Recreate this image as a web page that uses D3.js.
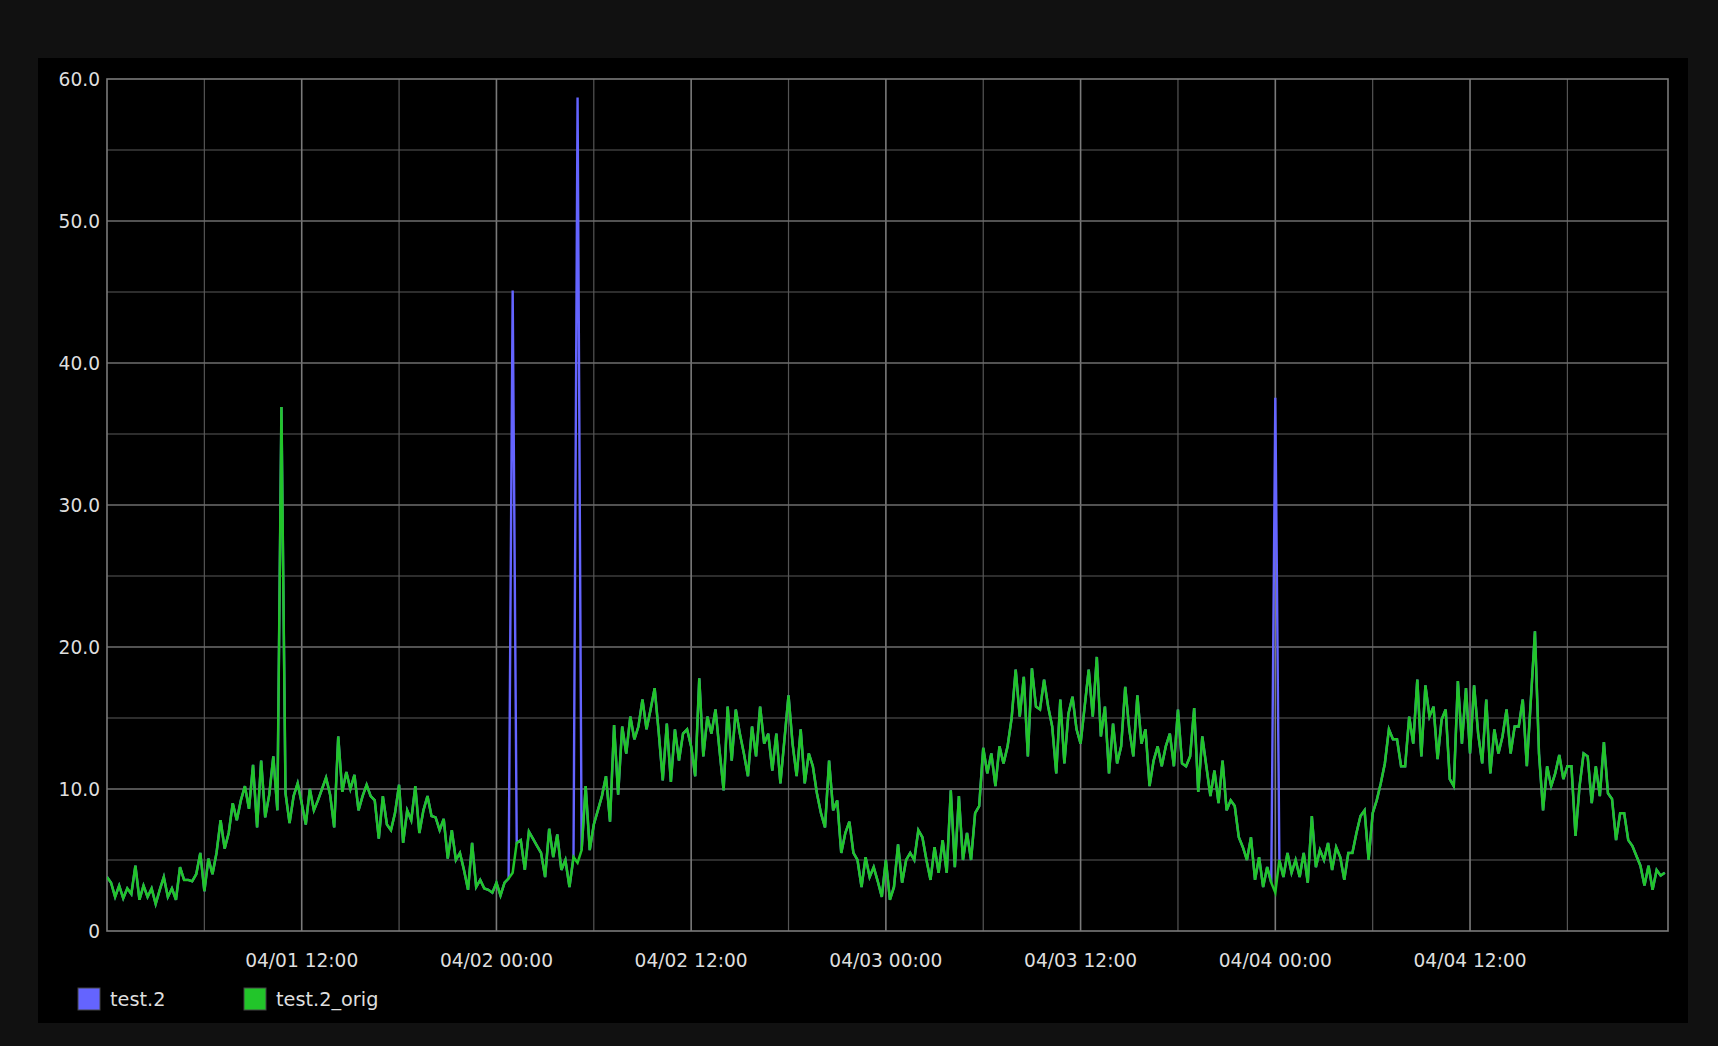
<!DOCTYPE html>
<html>
<head>
<meta charset="utf-8">
<script src="https://cdn.jsdelivr.net/npm/d3@7"></script>
<style>
  html, body { margin: 0; padding: 0; background: #111111; }
  svg { display: block; }
  text { font-family: "DejaVu Sans", sans-serif; }
</style>
</head>
<body>
<script>
// ---------------- data ----------------
const seriesNames = ["test.2", "test.2_orig"];
const seriesColors = ["#6464ff", "#22c52a"];
const startTime = new Date(2014, 3, 1, 0, 0);   // 04/01 00:00
const stepMinutes = 15;
const spanMinutes = 5772;                        // visible range ~96.2 h

// test.2_orig, one value every 15 minutes
const origValues = [
  3.8, 3.4, 2.4, 3.2, 2.3, 3.0, 2.6, 4.6, 2.2, 3.2,
  2.4, 3.0, 1.9, 2.9, 3.8, 2.4, 3.0, 2.2, 4.5, 3.6,
  3.6, 3.5, 4.0, 5.5, 2.8, 5.1, 4.0, 5.5, 7.8, 5.8,
  6.9, 9.0, 7.8, 9.2, 10.2, 8.6, 11.7, 7.3, 12.0, 8.0,
  9.6, 12.3, 8.5, 36.9, 9.7, 7.6, 9.5, 10.4, 9.0, 7.5,
  10.0, 8.5, 9.2, 10.0, 10.8, 9.6, 7.3, 13.7, 9.8, 11.2,
  10.0, 11.0, 8.5, 9.5, 10.3, 9.5, 9.2, 6.5, 9.5, 7.5,
  7.1, 8.3, 10.3, 6.2, 8.5, 7.8, 10.2, 6.9, 8.5, 9.5,
  8.1, 8.0, 7.1, 7.9, 5.1, 7.1, 5.0, 5.5, 4.3, 2.9,
  6.2, 3.1, 3.6, 3.0, 2.9, 2.7, 3.4, 2.5, 3.4, 3.7,
  4.1, 6.2, 6.4, 4.3, 7.0, 6.5, 6.0, 5.5, 3.8, 7.2,
  5.2, 6.8, 4.3, 5.0, 3.1, 5.2, 4.8, 5.7, 10.2, 5.7,
  7.5, 8.5, 9.5, 10.9, 7.7, 14.5, 9.6, 14.4, 12.5, 15.1,
  13.5, 14.4, 16.3, 14.2, 15.6, 17.1, 14.0, 10.6, 14.6, 10.5,
  14.2, 12.0, 13.9, 14.2, 13.0, 10.9, 17.8, 12.3, 15.1, 13.9,
  15.6, 12.7, 9.9, 15.8, 12.0, 15.6, 13.9, 12.5, 10.9, 14.4,
  12.3, 15.8, 13.2, 13.9, 11.3, 13.9, 10.4, 13.5, 16.6, 13.2,
  10.9, 14.2, 10.4, 12.5, 11.6, 9.7, 8.3, 7.3, 12.0, 8.5,
  9.2, 5.5, 6.9, 7.7, 5.5, 5.0, 3.1, 5.2, 3.8, 4.5,
  3.5, 2.4, 5.0, 2.2, 3.1, 6.1, 3.4, 5.0, 5.5, 5.0,
  7.1, 6.6, 5.0, 3.6, 5.9, 4.1, 6.4, 4.1, 9.9, 4.5,
  9.5, 5.0, 6.9, 5.0, 8.3, 8.8, 12.9, 11.1, 12.5, 10.2,
  13.0, 11.8, 13.0, 15.0, 18.4, 15.1, 17.9, 12.3, 18.5, 15.8,
  15.6, 17.7, 15.8, 14.4, 11.1, 16.3, 11.8, 15.3, 16.5, 14.2,
  13.2, 15.8, 18.4, 15.1, 19.3, 13.7, 15.8, 11.1, 14.6, 11.8,
  13.0, 17.2, 14.2, 12.3, 16.6, 13.2, 14.2, 10.2, 12.0, 13.0,
  11.6, 13.0, 13.9, 11.6, 15.6, 11.8, 11.6, 12.3, 15.7, 9.8,
  13.7, 11.6, 9.5, 11.3, 9.0, 12.0, 8.5, 9.2, 8.8, 6.6,
  5.9, 5.0, 6.6, 3.6, 5.2, 3.1, 4.5, 3.4, 2.7, 5.0,
  3.8, 5.5, 4.1, 5.0, 3.8, 5.5, 3.4, 8.1, 4.5, 5.7,
  5.0, 6.2, 4.3, 5.9, 5.2, 3.6, 5.5, 5.5, 6.9, 8.1,
  8.5, 5.0, 8.3, 9.2, 10.4, 11.8, 14.2, 13.5, 13.5, 11.6,
  11.6, 15.1, 13.2, 17.7, 12.3, 17.3, 15.1, 15.8, 12.1, 14.9,
  15.6, 10.7, 10.2, 17.6, 13.2, 17.1, 12.5, 17.3, 13.9, 11.8,
  16.3, 11.1, 14.2, 12.5, 13.7, 15.6, 12.5, 14.4, 14.4, 16.3,
  11.6, 16.3, 21.1, 12.5, 8.5, 11.6, 10.2, 11.1, 12.4, 10.7,
  11.6, 11.6, 6.7, 10.2, 12.5, 12.3, 9.0, 11.6, 9.5, 13.3,
  9.7, 9.3, 6.4, 8.3, 8.3, 6.4, 6.0, 5.3, 4.6, 3.2,
  4.6, 2.9, 4.3, 3.9, 4.1
];

// test.2 follows test.2_orig except at these samples
const test2SpikeIndex = [100, 116, 288];
const test2SpikeValues = [45.1, 58.7, 37.55];

const yTickValues = [0, 10, 20, 30, 40, 50, 60];
const yTickLabels = ["0", "10.0", "20.0", "30.0", "40.0", "50.0", "60.0"];
const xTickLabels = ["04/01 12:00", "04/02 00:00", "04/02 12:00", "04/03 00:00",
                     "04/03 12:00", "04/04 00:00", "04/04 12:00"];

// ---------------- layout ----------------
const W = 1718, H = 1046;
const plot = { left: 107, top: 79, right: 1668, bottom: 931 };

const svg = d3.select("body").append("svg").attr("width", W).attr("height", H);
svg.append("rect").attr("width", W).attr("height", H).attr("fill", "#111111");
svg.append("rect").attr("x", 38).attr("y", 58).attr("width", 1650).attr("height", 965).attr("fill", "#000000");

const endTime = d3.timeMinute.offset(startTime, spanMinutes);
const x = d3.scaleTime().domain([startTime, endTime]).range([plot.left, plot.right]);
const y = d3.scaleLinear().domain([0, 60]).range([plot.bottom, plot.top]);

const origData = origValues.map((v, i) => ({ t: d3.timeMinute.offset(startTime, i * stepMinutes), v }));
const test2Data = origData.map((d, i) => {
  const k = test2SpikeIndex.indexOf(i);
  return { t: d.t, v: k >= 0 ? test2SpikeValues[k] : d.v };
});

// grid (lines that would touch the frame are left to the frame)
const gridEnd = d3.timeHour.offset(startTime, 95);
const minorX = d3.timeHour.every(6).range(d3.timeMinute.offset(startTime, 1), gridEnd).filter(d => d.getHours() % 12 !== 0);
const majorX = d3.timeHour.every(12).range(d3.timeMinute.offset(startTime, 1), gridEnd);
const minorY = [5, 15, 25, 35, 45, 55];
const majorY = yTickValues.filter(v => v > 0 && v < 60);

const grid = svg.append("g");
grid.selectAll("line.mx").data(minorX).join("line")
  .attr("x1", d => x(d)).attr("x2", d => x(d))
  .attr("y1", plot.top).attr("y2", plot.bottom)
  .attr("stroke", "#555").attr("stroke-width", 1.2);
grid.selectAll("line.my").data(minorY).join("line")
  .attr("x1", plot.left).attr("x2", plot.right)
  .attr("y1", d => y(d)).attr("y2", d => y(d))
  .attr("stroke", "#5a5a5a").attr("stroke-width", 1.2);
grid.selectAll("line.Mx").data(majorX).join("line")
  .attr("x1", d => x(d)).attr("x2", d => x(d))
  .attr("y1", plot.top).attr("y2", plot.bottom)
  .attr("stroke", "#7a7a7a").attr("stroke-width", 1.6);
grid.selectAll("line.My").data(majorY).join("line")
  .attr("x1", plot.left).attr("x2", plot.right)
  .attr("y1", d => y(d)).attr("y2", d => y(d))
  .attr("stroke", "#6e6e6e").attr("stroke-width", 1.4);
svg.append("rect")
  .attr("x", plot.left).attr("y", plot.top)
  .attr("width", plot.right - plot.left).attr("height", plot.bottom - plot.top)
  .attr("fill", "none").attr("stroke", "#7a7a7a").attr("stroke-width", 1.6);

// axes labels
svg.append("g").selectAll("text").data(yTickValues).join("text")
  .attr("x", 100).attr("y", d => y(d)).attr("dy", "0.36em")
  .attr("text-anchor", "end").attr("font-size", 18.6).attr("fill", "#dedede")
  .text((d, i) => yTickLabels[i]);

svg.append("g").selectAll("text").data(majorX).join("text")
  .attr("x", d => x(d)).attr("y", 967)
  .attr("text-anchor", "middle").attr("font-size", 18.6).attr("fill", "#dedede")
  .text((d, i) => xTickLabels[i]);

// lines
svg.append("clipPath").attr("id", "clip").append("rect")
  .attr("x", plot.left).attr("y", plot.top)
  .attr("width", plot.right - plot.left).attr("height", plot.bottom - plot.top);
const line = d3.line().x(d => x(d.t)).y(d => y(d.v));
const lines = svg.append("g").attr("clip-path", "url(#clip)");
lines.append("path").datum(test2Data).attr("d", line)
  .attr("fill", "none").attr("stroke", seriesColors[0]).attr("stroke-width", 2.4)
  .attr("stroke-linejoin", "miter");
lines.append("path").datum(origData).attr("d", line)
  .attr("fill", "none").attr("stroke", seriesColors[1]).attr("stroke-width", 2.5)
  .attr("stroke-linejoin", "miter");

// legend
const legendX = [78, 244];
const lg = svg.append("g");
seriesNames.forEach((name, i) => {
  lg.append("rect").attr("x", legendX[i]).attr("y", 988).attr("width", 22).attr("height", 22)
    .attr("fill", seriesColors[i]).attr("stroke", "#444").attr("stroke-width", 1);
  lg.append("text").attr("x", legendX[i] + 32).attr("y", 1006)
    .attr("font-size", 19.3).attr("fill", "#dedede").text(name);
});
</script>
</body>
</html>
